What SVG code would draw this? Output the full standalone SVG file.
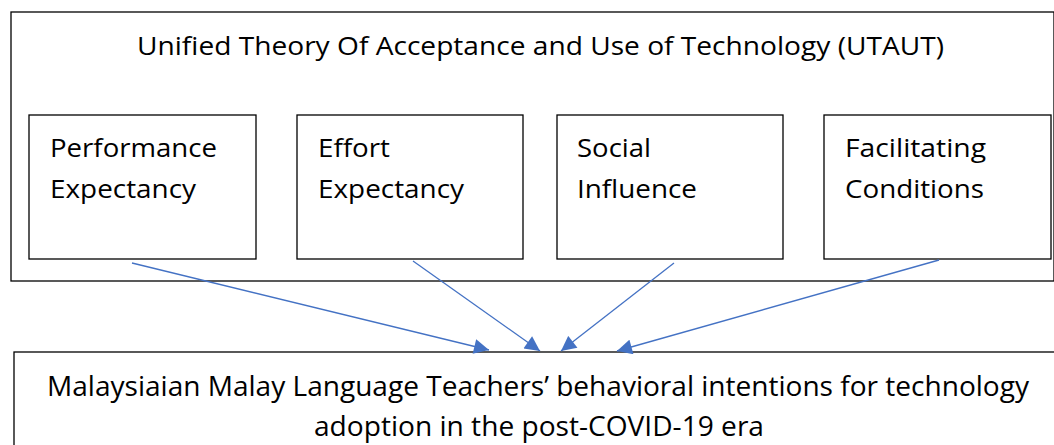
<svg xmlns="http://www.w3.org/2000/svg" width="1054" height="445" viewBox="0 0 1054 445">
<style>
.box{fill:#fff;stroke:#000;stroke-width:1.3}
.t{font-family:"Open Sans","Liberation Sans",sans-serif;font-size:26px;fill:#000}
.b{font-size:27px}
.c{stroke:#4472C4;stroke-width:1.3;fill:none}
</style>
<defs>
<marker id="ah" viewBox="0 0 10 10" refX="10" refY="5" markerWidth="16" markerHeight="15" markerUnits="userSpaceOnUse" orient="auto">
<path d="M0,0 L10,5 L0,10 z" fill="#4472C4"/>
</marker>
</defs>
<rect width="1054" height="445" fill="#fff"/>
<g id="utaut">
<rect class="box" x="11" y="12" width="1043" height="269"/>
<text class="t" x="137" y="55" textLength="807" lengthAdjust="spacingAndGlyphs">Unified Theory Of Acceptance and Use of Technology (UTAUT)</text>
</g>
<g id="pe">
<rect class="box" x="29" y="115" width="227" height="144"/>
<text class="t" x="50" y="157" textLength="167" lengthAdjust="spacingAndGlyphs">Performance</text>
<text class="t" x="50" y="198" textLength="146" lengthAdjust="spacingAndGlyphs">Expectancy</text>
</g>
<g id="ee">
<rect class="box" x="297" y="115" width="226" height="144"/>
<text class="t" x="318" y="157" textLength="72" lengthAdjust="spacingAndGlyphs">Effort</text>
<text class="t" x="318" y="198" textLength="146" lengthAdjust="spacingAndGlyphs">Expectancy</text>
</g>
<g id="si">
<rect class="box" x="557" y="115" width="226" height="144"/>
<text class="t" x="577" y="157" textLength="74" lengthAdjust="spacingAndGlyphs">Social</text>
<text class="t" x="577" y="198" textLength="120" lengthAdjust="spacingAndGlyphs">Influence</text>
</g>
<g id="fc">
<rect class="box" x="824" y="115" width="227" height="144"/>
<text class="t" x="845" y="157" textLength="141" lengthAdjust="spacingAndGlyphs">Facilitating</text>
<text class="t" x="845" y="198" textLength="139" lengthAdjust="spacingAndGlyphs">Conditions</text>
</g>
<g id="intention">
<rect class="box" x="14" y="352" width="1045" height="100"/>
<text class="t b" x="47" y="396" textLength="982" lengthAdjust="spacingAndGlyphs">Malaysiaian Malay Language Teachers’ behavioral intentions for technology</text>
<text class="t b" x="314" y="436" textLength="450" lengthAdjust="spacingAndGlyphs">adoption in the post-COVID-19 era</text>
</g>
<g id="connectors">
<line class="c" x1="132" y1="263" x2="489" y2="350" marker-end="url(#ah)"/>
<line class="c" x1="413" y1="261" x2="540" y2="351" marker-end="url(#ah)"/>
<line class="c" x1="674" y1="263" x2="561" y2="351" marker-end="url(#ah)"/>
<line class="c" x1="939" y1="260" x2="617" y2="351" marker-end="url(#ah)"/>
</g>
</svg>
